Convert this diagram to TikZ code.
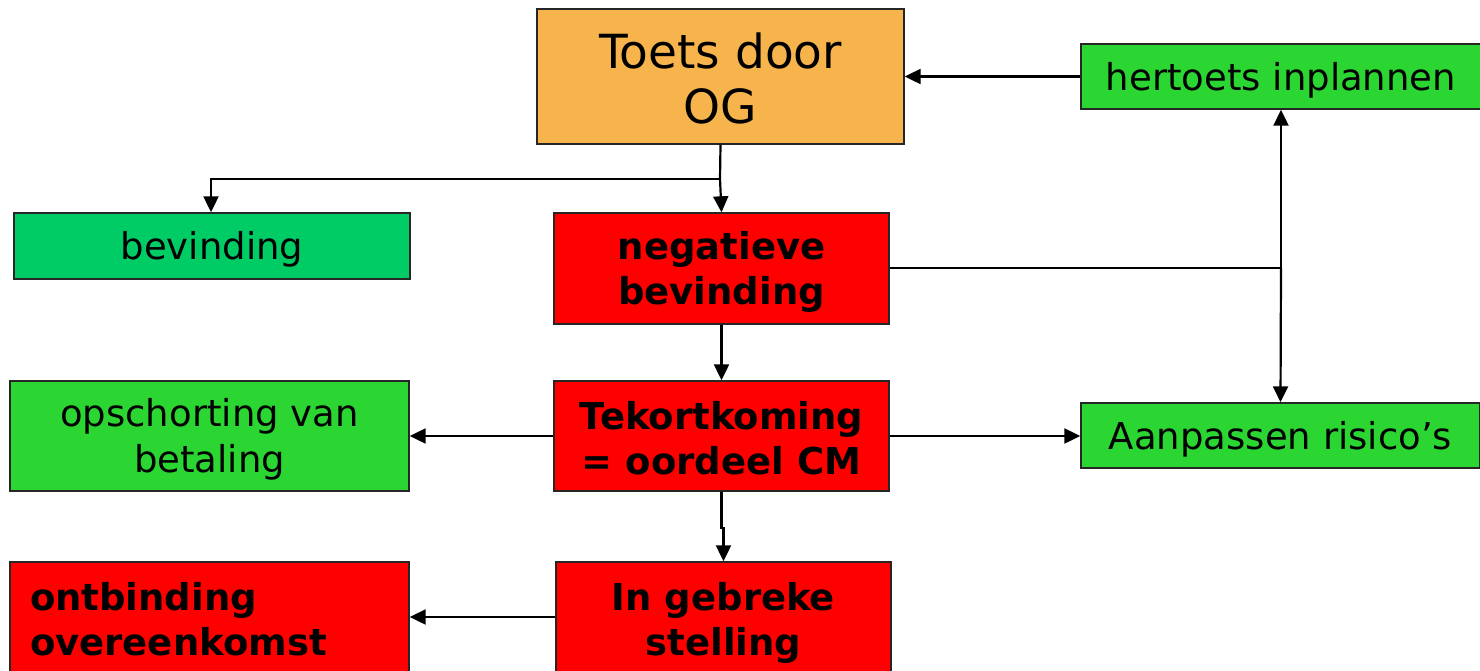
\documentclass[tikz,border=0pt]{standalone}
\usepackage{fontspec}
\setmainfont{DejaVu Sans}
\usetikzlibrary{arrows.meta}
\definecolor{orangebox}{RGB}{248,180,76}
\definecolor{greenbox}{RGB}{44,214,50}
\definecolor{greenbev}{RGB}{0,204,102}
\definecolor{redbox}{RGB}{255,0,0}
\tikzset{
  box/.style={draw=black!85, line width=1.4pt, rectangle, inner sep=0pt, text=black},
  regtext/.style={font=\fontsize{37}{46}\selectfont, align=center, inner sep=0pt, yshift=-3.5pt},
  boldtext/.style={font=\fontsize{37}{45}\selectfont\bfseries, align=center, inner sep=0pt, yshift=-3.5pt},
  conn/.style={line width=2.2pt, -{Triangle[length=16pt,width=15pt]}},
  plain/.style={line width=2.2pt}
}
\begin{document}
\begin{tikzpicture}[x=1pt,y=-1pt]
\useasboundingbox (0,0) rectangle (1480,670);
\clip (0,0) rectangle (1480,670);
\node[box, fill=orangebox, minimum width=367pt, minimum height=135pt,
  label={[font=\fontsize{47}{55}\selectfont, align=center, inner sep=0pt, yshift=-2pt]center:{Toets door\\OG}}] (toets) at (720.5,76.5) {};
\node[box, fill=greenbox, minimum width=400pt, minimum height=65pt,
  label={[regtext]center:{hertoets inplannen}}] (hertoets) at (1281,76.5) {};
\node[box, fill=greenbev, minimum width=396pt, minimum height=66pt,
  label={[regtext]center:{bevinding}}] (bevinding) at (212,246) {};
\node[box, fill=redbox, minimum width=335pt, minimum height=111pt,
  label={[boldtext]center:{negatieve\\bevinding}}] (negatief) at (721.5,268.5) {};
\node[box, fill=greenbox, minimum width=399pt, minimum height=110pt,
  label={[regtext]center:{opschorting van\\betaling}}] (opschorting) at (209.5,436) {};
\node[box, fill=redbox, minimum width=335pt, minimum height=110pt,
  label={[boldtext, yshift=1.5pt]center:{Tekortkoming\\= oordeel CM}}] (tekort) at (721.5,436) {};
\node[box, fill=greenbox, minimum width=399pt, minimum height=65pt,
  label={[regtext]center:{Aanpassen risico’s}}] (aanpassen) at (1280.5,435.5) {};
\node[box, fill=redbox, minimum width=335pt, minimum height=114pt,
  label={[boldtext]center:{In gebreke\\stelling}}] (gebreke) at (723.5,619) {};
\node[box, fill=redbox, minimum width=399pt, minimum height=114pt, align=left, text width=359pt,
  font=\fontsize{37}{45}\selectfont\bfseries] (ontbinding) at (209.5,619) {ontbinding\\overeenkomst};
\coordinate (j1) at (720,179);
\coordinate (j2) at (1281,268);
\draw[plain] (toets.south) -- (j1);
\draw[conn] (j1) -| (bevinding.north -| 211,0);
\draw[conn] (j1) -- (negatief.north);
\draw[conn] (hertoets.west) -- (toets.east |- hertoets.west);
\draw[plain] (negatief.east |- j2) -- (j2);
\draw[conn] (j2) -- (hertoets.south);
\draw[conn] (j2) -- (aanpassen.north);
\draw[conn] (negatief.south) -- (tekort.north);
\draw[conn] (tekort.west) -- (opschorting.east);
\draw[conn] (tekort.east) -- (aanpassen.west |- tekort.east);
\draw[conn] (tekort.south) -- ++(0,36) -| (gebreke.north);
\draw[conn] (gebreke.west |- 0,617) -- (ontbinding.east |- 0,617);
\end{tikzpicture}
\end{document}
